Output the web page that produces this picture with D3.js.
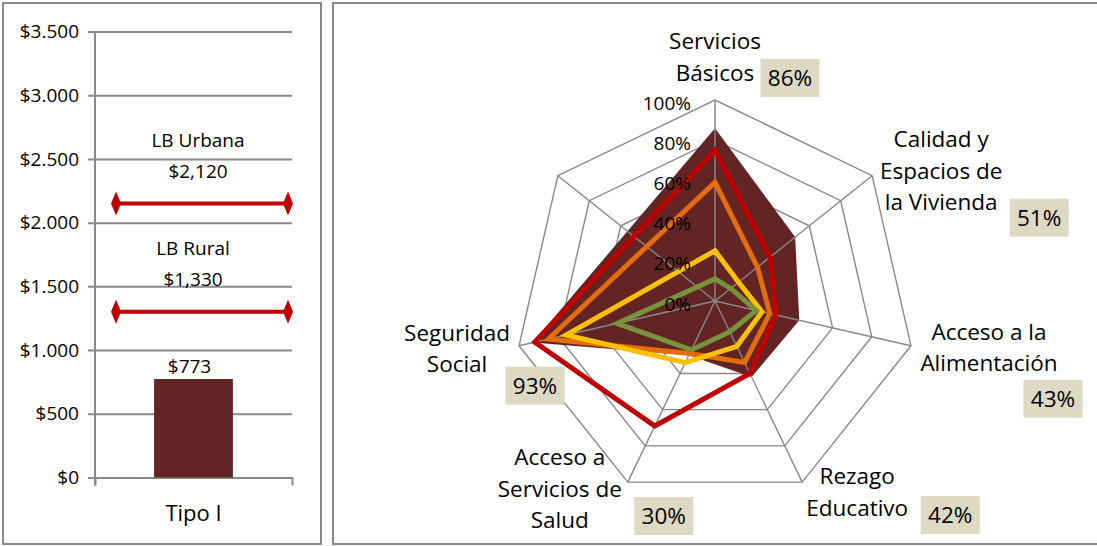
<!DOCTYPE html>
<html>
<head>
<meta charset="utf-8">
<script src="https://cdn.jsdelivr.net/npm/d3@7"></script>
<style>
  body { margin: 0; background: #fff; }
  svg { display: block; font-family: "Open Sans", sans-serif; }
</style>
</head>
<body>
<div id="chart"></div>
<script>
// ---- left chart data ----
var barCategories = ["Tipo I"]
var barValues = [773]
var yTicks = [0, 500, 1000, 1500, 2000, 2500, 3000, 3500]
var lineNames = ["LB Urbana", "LB Rural"]
var lineLabels = ["$2,120", "$1,330"]
var lineValues = [2150, 1300]

// ---- radar data ----
var categories = [
  ["Servicios", "Básicos"],
  ["Calidad y", "Espacios de", "la Vivienda"],
  ["Acceso a la", "Alimentación"],
  ["Rezago", "Educativo"],
  ["Acceso a", "Servicios de", "Salud"],
  ["Seguridad", "Social"],
  []
]
var areaValues   = [0.86, 0.51, 0.43, 0.42, 0.30, 0.93, null]
var redValues    = [0.75, 0.35, 0.31, 0.40, 0.69, 0.92, null]
var orangeValues = [0.59, 0.27, 0.28, 0.34, 0.29, 0.85, null]
var yellowValues = [0.25, 0.15, 0.24, 0.25, 0.34, 0.76, null]
var greenValues  = [0.11, 0.10, 0.21, 0.17, 0.27, 0.50, null]
var radarTicks = [0, 0.2, 0.4, 0.6, 0.8, 1]

var W = 1097, H = 546
var gridColor = "#898989"

var svg = d3.select("#chart").append("svg").attr("width", W).attr("height", H)

// frames
svg.append("rect").attr("x", 3).attr("y", 3).attr("width", 318).attr("height", 541)
  .attr("fill", "none").attr("stroke", gridColor).attr("stroke-width", 2)
svg.append("rect").attr("x", 333).attr("y", 3).attr("width", 780).attr("height", 541)
  .attr("fill", "none").attr("stroke", gridColor).attr("stroke-width", 2)

// ================= left chart =================
var locale = d3.formatLocale({decimal: ",", thousands: ".", grouping: [3], currency: ["$", ""]})
var fmtMoney = locale.format("$,")

var y = d3.scaleLinear().domain([0, 3500]).range([477.5, 31.5])
var x = d3.scaleBand().domain(barCategories).range([95, 292]).paddingInner(0).paddingOuter(0.75)

var left = svg.append("g")

var yAxis = left.append("g").attr("transform", "translate(88,0)")
  .call(d3.axisLeft(y).tickValues(yTicks).tickFormat(fmtMoney).tickSizeInner(-(292 - 88)).tickSizeOuter(0).tickPadding(9))
yAxis.select(".domain").remove()
yAxis.selectAll("line").attr("stroke", gridColor).attr("stroke-width", 2)
yAxis.selectAll("text").attr("font-size", 19).attr("fill", "#000").attr("font-family", "Open Sans")

left.append("line").attr("x1", 95).attr("x2", 95).attr("y1", y(3500)).attr("y2", y(0) + 8)
  .attr("stroke", gridColor).attr("stroke-width", 2)

var xAxis = left.append("g").attr("transform", "translate(0," + y(0) + ")")
  .call(d3.axisBottom(x).tickSizeInner(0).tickSizeOuter(8))
xAxis.select(".domain").attr("stroke", gridColor).attr("stroke-width", 2)
xAxis.selectAll("text").attr("y", 36).attr("dy", "0.35em").attr("font-size", 22)
  .attr("fill", "#000").attr("font-family", "Open Sans")

left.selectAll("rect.bar").data(barValues).enter().append("rect").attr("class", "bar")
  .attr("x", (d, i) => x(barCategories[i]))
  .attr("width", x.bandwidth())
  .attr("y", d => y(d))
  .attr("height", d => y(0) - y(d))
  .attr("fill", "#632523")

left.selectAll("text.barlabel").data(barValues).enter().append("text").attr("class", "barlabel")
  .attr("x", (d, i) => x(barCategories[i]) + x.bandwidth() / 2 - 4)
  .attr("y", d => y(d) - 13)
  .attr("dy", "0.35em").attr("text-anchor", "middle").attr("font-size", 19)
  .text(d => fmtMoney(d))

// limit lines with diamond ends
var lx1 = 116, lx2 = 288
var lines = left.selectAll("g.limit").data(lineValues).enter().append("g").attr("class", "limit")
lines.append("line").attr("x1", lx1).attr("x2", lx2)
  .attr("y1", d => y(d)).attr("y2", d => y(d))
  .attr("stroke", "#C00000").attr("stroke-width", 4)
lines.selectAll("path").data(d => [[lx1, y(d)], [lx2, y(d)]]).enter().append("path")
  .attr("d", p => "M" + p[0] + "," + (p[1] - 12) + "L" + (p[0] + 5) + "," + p[1] + "L" + p[0] + "," + (p[1] + 12) + "L" + (p[0] - 5) + "," + p[1] + "Z")
  .attr("fill", "#C00000")
lines.append("text").attr("x", (d, i) => i == 0 ? 198 : 193).attr("y", d => y(d) - 63)
  .attr("dy", "0.35em").attr("text-anchor", "middle").attr("font-size", 19)
  .text((d, i) => lineNames[i])
lines.append("text").attr("x", (d, i) => i == 0 ? 198 : 193).attr("y", d => y(d) - 32)
  .attr("dy", "0.35em").attr("text-anchor", "middle").attr("font-size", 19)
  .text((d, i) => lineLabels[i])

// ================= radar =================
var cx = 715, cy = 301, R = 201
var n = categories.length
var r = d3.scaleLinear().domain([0, 1]).range([0, R])
var angle = i => i * 2 * Math.PI / n
function px(i, v) { return Math.sin(angle(i)) * r(v) }
function py(i, v) { return -Math.cos(angle(i)) * r(v) }

var radar = svg.append("g").attr("transform", "translate(" + cx + "," + cy + ")")

var ring = d3.lineRadial().angle((d, i) => angle(i)).radius(d => r(d)).curve(d3.curveLinearClosed)

radar.selectAll("path.ring").data(radarTicks.slice(1)).enter().append("path").attr("class", "ring")
  .attr("d", t => ring(d3.range(n).map(() => t)))
  .attr("fill", "none").attr("stroke", gridColor).attr("stroke-width", 1.4)

function seriesPath(values) {
  var pts = values.map((v, i) => [angle(i), v]).filter(p => p[1] != null)
  return d3.lineRadial().angle(p => p[0]).radius(p => r(p[1])).curve(d3.curveLinearClosed)(pts)
}

radar.append("path").attr("d", seriesPath(areaValues)).attr("fill", "#632523")

radar.selectAll("line.spoke").data(d3.range(n)).enter().append("line").attr("class", "spoke")
  .attr("x1", 0).attr("y1", 0)
  .attr("x2", i => px(i, 1)).attr("y2", i => py(i, 1))
  .attr("stroke", gridColor).attr("stroke-width", 1.4)

var lineSeries = [
  {values: redValues, color: "#C00000"},
  {values: orangeValues, color: "#E46C0A"},
  {values: yellowValues, color: "#FFC000"},
  {values: greenValues, color: "#77933C"}
]
radar.selectAll("path.series").data(lineSeries).enter().append("path").attr("class", "series")
  .attr("d", s => seriesPath(s.values))
  .attr("fill", "none").attr("stroke", s => s.color).attr("stroke-width", 5)
  .attr("stroke-linejoin", "miter")

radar.selectAll("text.tick").data(radarTicks).enter().append("text").attr("class", "tick")
  .attr("x", -24).attr("y", t => -r(t) + 3)
  .attr("dy", "0.35em").attr("text-anchor", "end").attr("font-size", 19)
  .text(d3.format(".0%"))

// category labels and value boxes (offsets from each outer vertex)
var labelOffset = [[0, -43], [69, -5], [78, 2], [55, 10], [-68, 7], [-62, 3], [0, 0]]
var boxOffset = [[75, -22], [167, 42], [142, 53], [148, 33], [36, 34], [16, 40], [0, 0]]
var lineGap = 31.5

var labels = radar.selectAll("g.cat").data(categories).enter().append("g").attr("class", "cat")
  .attr("transform", (d, i) => "translate(" + (px(i, 1) + labelOffset[i][0]) + "," + (py(i, 1) + labelOffset[i][1]) + ")")
labels.selectAll("text").data(d => d.map((t, j) => ({t: t, j: j, k: d.length}))).enter().append("text")
  .attr("x", 0).attr("y", d => (d.j - (d.k - 1) / 2) * lineGap)
  .attr("dy", "0.35em").attr("text-anchor", "middle").attr("font-size", 22.5)
  .text(d => d.t)

var boxes = radar.selectAll("g.box").data(areaValues.filter(v => v != null)).enter().append("g").attr("class", "box")
  .attr("transform", (d, i) => "translate(" + (px(i, 1) + boxOffset[i][0]) + "," + (py(i, 1) + boxOffset[i][1]) + ")")
boxes.append("rect").attr("x", -29.5).attr("y", -19).attr("width", 59).attr("height", 38).attr("fill", "#DDD9C3")
boxes.append("text").attr("dy", "0.35em").attr("text-anchor", "middle").attr("font-size", 22.5)
  .text(d3.format(".0%"))
</script>
</body>
</html>
